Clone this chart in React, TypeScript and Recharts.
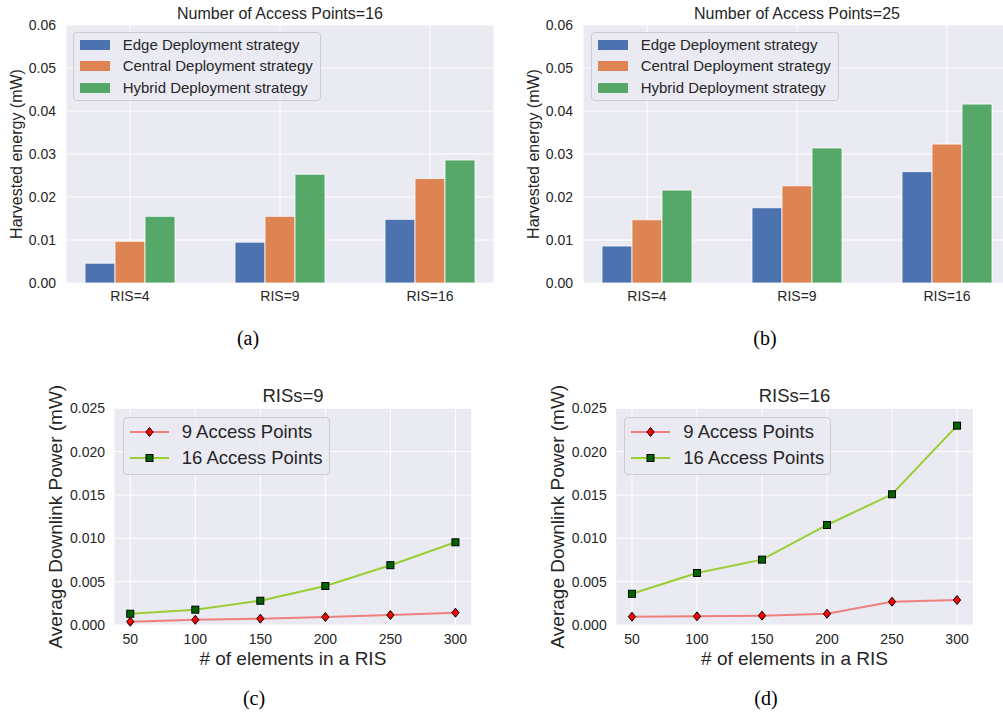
import React from 'react';
import {
  BarChart,
  Bar,
  LineChart,
  Line,
  XAxis,
  YAxis,
  CartesianGrid,
  Legend,
  Label,
} from 'recharts';

// bar panels (a) and (b)
const risGroups = ['RIS=4', 'RIS=9', 'RIS=16'];
const edgeAp16 = [0.0046, 0.0095, 0.0148];
const centralAp16 = [0.0097, 0.0155, 0.0243];
const hybridAp16 = [0.0155, 0.0253, 0.0286];
const edgeAp25 = [0.0086, 0.0175, 0.0259];
const centralAp25 = [0.0147, 0.0226, 0.0323];
const hybridAp25 = [0.0216, 0.0314, 0.0416];
const barTicks = [0, 0.01, 0.02, 0.03, 0.04, 0.05, 0.06];

// line panels (c) and (d)
const elementCounts = [50, 100, 150, 200, 250, 300];
const ap9Ris9 = [0.00038, 0.0006, 0.00073, 0.00092, 0.00115, 0.00142];
const ap16Ris9 = [0.0013, 0.00177, 0.0028, 0.0045, 0.0069, 0.00954];
const ap9Ris16 = [0.00096, 0.001, 0.00108, 0.0013, 0.00269, 0.00288];
const ap16Ris16 = [0.0036, 0.006, 0.00754, 0.01154, 0.01508, 0.023];
const lineTicks = [0, 0.005, 0.01, 0.015, 0.02, 0.025];

const BG = '#EAEAF2';
const INK = '#262626';
const FONT = '"Liberation Sans", Arial, sans-serif';
const SERIF = '"Liberation Serif", "Times New Roman", serif';

const strategies = [
  { key: 'edge', name: 'Edge Deployment strategy', color: '#4C72B0' },
  { key: 'central', name: 'Central Deployment strategy', color: '#DD8452' },
  { key: 'hybrid', name: 'Hybrid Deployment strategy', color: '#55A868' },
];

const apSeries = [
  { key: 'ap9', name: '9 Access Points', color: '#F08080', marker: 'diamond' },
  { key: 'ap16', name: '16 Access Points', color: '#9ACD32', marker: 'square' },
];

const barData = (edge: number[], central: number[], hybrid: number[]) =>
  risGroups.map((group, i) => ({ group, edge: edge[i], central: central[i], hybrid: hybrid[i] }));

const lineData = (ap9: number[], ap16: number[]) =>
  elementCounts.map((n, i) => ({ n, ap9: ap9[i], ap16: ap16[i] }));

const Marker = ({ kind, cx, cy }: { kind: string; cx: number; cy: number }) =>
  kind === 'diamond' ? (
    <path
      d={`M${cx},${cy - 4.5}L${cx + 3.6},${cy}L${cx},${cy + 4.5}L${cx - 3.6},${cy}Z`}
      fill="#ff0000"
      stroke="#000"
      strokeWidth={1}
    />
  ) : (
    <rect x={cx - 3.5} y={cy - 3.5} width={7} height={7} fill="#006400" stroke="#000" strokeWidth={1} />
  );

const yTitle = (text: string, dx: number, size: number) => (props: any) => {
  const vb = props.viewBox;
  const x = vb.x + dx;
  const y = vb.y + vb.height / 2;
  return (
    <text
      x={x}
      y={y}
      transform={`rotate(-90 ${x} ${y})`}
      textAnchor="middle"
      dominantBaseline="central"
      fill={INK}
      fontSize={size}
      fontFamily={FONT}
    >
      {text}
    </text>
  );
};

const xTitle = (text: string, dy: number, size: number) => (props: any) => {
  const vb = props.viewBox;
  return (
    <text
      x={vb.x + vb.width / 2}
      y={vb.y + dy}
      textAnchor="middle"
      dominantBaseline="central"
      fill={INK}
      fontSize={size}
      fontFamily={FONT}
    >
      {text}
    </text>
  );
};

const legendBox: React.CSSProperties = {
  position: 'relative',
  boxSizing: 'border-box',
  border: '1px solid #cccccc',
  borderRadius: 4,
  background: 'rgba(234,234,242,0.8)',
  fontFamily: FONT,
  color: INK,
};

const BarLegend = () => (
  <div style={{ ...legendBox, width: 248, height: 69 }}>
    {strategies.map((s, i) => (
      <div key={s.key} style={{ position: 'absolute', left: 0, top: 12 + i * 21.8, height: 0 }}>
        <div style={{ position: 'absolute', left: 6, top: -5, width: 30, height: 10, background: s.color }} />
        <div style={{ position: 'absolute', left: 49, top: -9, fontSize: 15, lineHeight: '18px', whiteSpace: 'nowrap' }}>
          {s.name}
        </div>
      </div>
    ))}
  </div>
);

const LineLegend = () => (
  <div style={{ ...legendBox, width: 207, height: 58 }}>
    {apSeries.map((s, i) => (
      <div key={s.key} style={{ position: 'absolute', left: 0, top: 14.3 + i * 26.3, height: 0 }}>
        <svg style={{ position: 'absolute', left: 5, top: -6 }} width={42} height={12}>
          <line x1={1} y1={6} x2={40} y2={6} stroke={s.color} strokeWidth={2} />
          <Marker kind={s.marker} cx={20.5} cy={6} />
        </svg>
        <div style={{ position: 'absolute', left: 58, top: -11, fontSize: 18.5, lineHeight: '22px', whiteSpace: 'nowrap' }}>
          {s.name}
        </div>
      </div>
    ))}
  </div>
);

const Title = ({ x, y, size, children }: { x: number; y: number; size: number; children: React.ReactNode }) => (
  <div
    style={{
      position: 'absolute',
      left: x,
      top: y,
      transform: 'translate(-50%, -50%)',
      fontFamily: FONT,
      fontSize: size,
      color: INK,
      whiteSpace: 'nowrap',
      lineHeight: 1,
    }}
  >
    {children}
  </div>
);

const Caption = ({ x, y, children }: { x: number; y: number; children: React.ReactNode }) => (
  <div
    style={{
      position: 'absolute',
      left: x,
      top: y,
      transform: 'translate(-50%, -50%)',
      fontFamily: SERIF,
      fontSize: 20,
      color: '#000',
      lineHeight: 1,
    }}
  >
    {children}
  </div>
);

interface BarPanelProps {
  left: number;
  width: number;
  marginLeft: number;
  marginRight: number;
  legendLeft: number;
  data: any[];
}

const BarPanel: React.FC<BarPanelProps> = ({ left, width, marginLeft, marginRight, legendLeft, data }) => (
  <div style={{ position: 'absolute', left, top: 0 }}>
    <BarChart
      width={width}
      height={320}
      data={data}
      barGap={0}
      margin={{ top: 25, right: marginRight, bottom: 7, left: marginLeft }}
    >
      <CartesianGrid fill={BG} stroke="#ffffff" strokeWidth={1} />
      <XAxis
        dataKey="group"
        axisLine={false}
        tickLine={false}
        height={30}
        padding={{ left: -11, right: -11 }}
        tick={{ fill: INK, fontSize: 14, fontFamily: FONT }}
      />
      <YAxis
        width={60}
        domain={[0, 0.06]}
        ticks={barTicks}
        interval={0}
        axisLine={false}
        tickLine={false}
        tickMargin={4}
        tickFormatter={(v: number) => v.toFixed(2)}
        tick={{ fill: INK, fontSize: 14, fontFamily: FONT }}
      >
        <Label content={yTitle('Harvested energy (mW)', 10, 16)} />
      </YAxis>
      {strategies.map((s) => (
        <Bar
          key={s.key}
          dataKey={s.key}
          name={s.name}
          fill={s.color}
          stroke="#ffffff"
          strokeWidth={0.8}
          barSize={30}
          isAnimationActive={false}
        />
      ))}
      <Legend
        layout="horizontal"
        verticalAlign="middle"
        align="center"
        content={() => <BarLegend />}
        wrapperStyle={{ left: legendLeft, top: 31.7, width: 'auto' }}
      />
    </BarChart>
  </div>
);

interface LinePanelProps {
  left: number;
  width: number;
  marginLeft: number;
  marginRight: number;
  legendLeft: number;
  data: any[];
}

const LinePanel: React.FC<LinePanelProps> = ({ left, width, marginLeft, marginRight, legendLeft, data }) => (
  <div style={{ position: 'absolute', left, top: 370 }}>
    <LineChart
      width={width}
      height={343}
      data={data}
      margin={{ top: 38.3, right: marginRight, bottom: 28, left: marginLeft }}
    >
      <CartesianGrid fill={BG} stroke="#ffffff" strokeWidth={1} />
      <XAxis
        dataKey="n"
        type="number"
        domain={[37.5, 312.5]}
        ticks={elementCounts}
        interval={0}
        axisLine={false}
        tickLine={false}
        tickMargin={3}
        height={60}
        tick={{ fill: INK, fontSize: 14, fontFamily: FONT }}
      >
        <Label content={xTitle('# of elements in a RIS', 33, 19)} />
      </XAxis>
      <YAxis
        width={110}
        domain={[0, 0.025]}
        ticks={lineTicks}
        interval={0}
        axisLine={false}
        tickLine={false}
        tickMargin={3}
        tickFormatter={(v: number) => v.toFixed(3)}
        tick={{ fill: INK, fontSize: 14, fontFamily: FONT }}
      >
        <Label content={yTitle('Average Downlink Power (mW)', 52, 19)} />
      </YAxis>
      {apSeries.map((s) => (
        <Line
          key={s.key}
          dataKey={s.key}
          name={s.name}
          stroke={s.color}
          strokeWidth={2}
          isAnimationActive={false}
          dot={(p: any) => <Marker key={`${s.key}-${p.index}`} kind={s.marker} cx={p.cx} cy={p.cy} />}
          activeDot={false}
        />
      ))}
      <Legend
        layout="horizontal"
        verticalAlign="middle"
        align="center"
        content={() => <LineLegend />}
        wrapperStyle={{ left: legendLeft, top: 46.7, width: 'auto' }}
      />
    </LineChart>
  </div>
);

export default function App() {
  return (
    <div
      style={{
        position: 'absolute',
        left: 0,
        top: 0,
        width: 1003,
        height: 713,
        overflow: 'hidden',
        background: '#ffffff',
      }}
    >
      <BarPanel
        left={0}
        width={500}
        marginLeft={6}
        marginRight={6}
        legendLeft={72.7}
        data={barData(edgeAp16, centralAp16, hybridAp16)}
      />
      <BarPanel
        left={500}
        width={520}
        marginLeft={23}
        marginRight={9}
        legendLeft={90.7}
        data={barData(edgeAp25, centralAp25, hybridAp25)}
      />
      <LinePanel
        left={0}
        width={500}
        marginLeft={4}
        marginRight={28.3}
        legendLeft={122.7}
        data={lineData(ap9Ris9, ap16Ris9)}
      />
      <LinePanel
        left={500}
        width={503}
        marginLeft={5.7}
        marginRight={29.7}
        legendLeft={124.3}
        data={lineData(ap9Ris16, ap16Ris16)}
      />
      <Title x={280} y={13.5} size={16}>Number of Access Points=16</Title>
      <Title x={797} y={13.5} size={16}>Number of Access Points=25</Title>
      <Title x={293} y={396} size={18.5}>RISs=9</Title>
      <Title x={794.5} y={396} size={18.5}>RISs=16</Title>
      <Caption x={248} y={338}>(a)</Caption>
      <Caption x={765} y={338}>(b)</Caption>
      <Caption x={254} y={698}>(c)</Caption>
      <Caption x={766} y={698}>(d)</Caption>
    </div>
  );
}
